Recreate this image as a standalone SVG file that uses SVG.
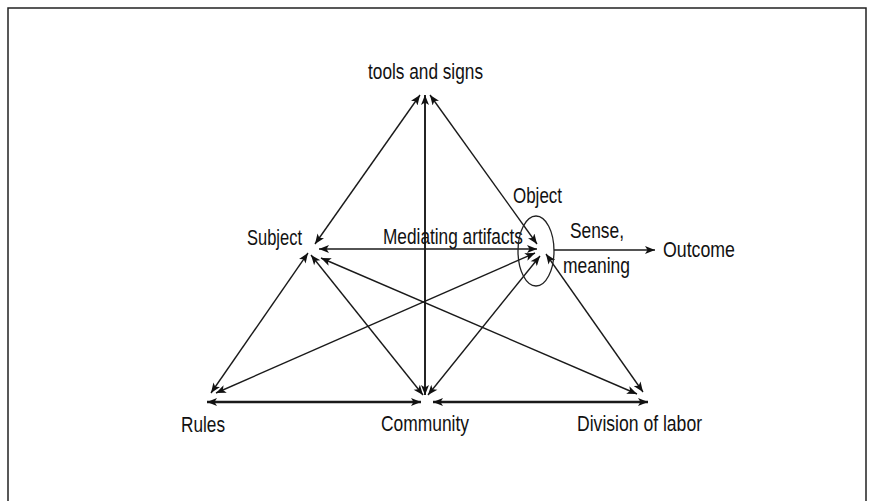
<svg xmlns="http://www.w3.org/2000/svg" width="870" height="501" viewBox="0 0 870 501">
<defs>
<marker id="ah" viewBox="0 0 10 8" refX="10" refY="4" markerWidth="11" markerHeight="8" markerUnits="userSpaceOnUse" orient="auto-start-reverse">
<path d="M0,0 L10,4 L0,8 L2.5,4 z" fill="#111"/>
</marker>
</defs>
<style>
.t{font-family:"Liberation Sans",Arial,sans-serif;font-size:22px;fill:#111;}
.c{stroke:#1a1a1a;stroke-width:1.4;fill:none;marker-start:url(#ah);marker-end:url(#ah);}
.b{stroke-width:2.3;}
.v{stroke-width:1.9;}
</style>
<rect width="870" height="501" fill="#fff"/>
<path d="M8,501 L8,8 L866,8 L866,501" fill="none" stroke="#222" stroke-width="1.5"/>
<g id="connectors">
<line class="c" x1="420" y1="95" x2="315" y2="244"/>
<line class="c v" x1="425" y1="95" x2="425" y2="395"/>
<line class="c" x1="430" y1="95" x2="537" y2="244"/>
<line class="c" x1="319" y1="249" x2="537" y2="249"/>
<line class="c" x1="308" y1="253" x2="211" y2="393"/>
<line class="c" x1="311" y1="255" x2="423" y2="395"/>
<line class="c" x1="321" y1="258" x2="637" y2="394"/>
<line class="c" x1="535" y1="253" x2="216" y2="393"/>
<line class="c" x1="540" y1="256" x2="428" y2="395"/>
<line class="c" x1="546" y1="254" x2="643" y2="392"/>
<line class="c b" x1="207" y1="402" x2="421" y2="402"/>
<line class="c b" x1="433" y1="402" x2="648" y2="402"/>
<line x1="554" y1="250" x2="655" y2="250" stroke="#1a1a1a" stroke-width="1.4" marker-end="url(#ah)"/>
</g>
<g id="tools"><text class="t" x="368" y="79" textLength="115" lengthAdjust="spacingAndGlyphs">tools and signs</text></g>
<g id="subject"><text class="t" x="247" y="245" textLength="55" lengthAdjust="spacingAndGlyphs">Subject</text></g>
<g id="mediating"><text class="t" x="383" y="244" textLength="140" lengthAdjust="spacingAndGlyphs">Mediating artifacts</text></g>
<g id="object">
<ellipse cx="536" cy="251" rx="18" ry="35" fill="none" stroke="#222" stroke-width="1.3"/>
<text class="t" x="513" y="203" textLength="49" lengthAdjust="spacingAndGlyphs">Object</text>
</g>
<g id="sense">
<text class="t" x="570" y="238" textLength="54" lengthAdjust="spacingAndGlyphs">Sense,</text>
<text class="t" x="563" y="273" textLength="67" lengthAdjust="spacingAndGlyphs">meaning</text>
</g>
<g id="outcome"><text class="t" x="663" y="257" textLength="72" lengthAdjust="spacingAndGlyphs">Outcome</text></g>
<g id="rules"><text class="t" x="181" y="432" textLength="44" lengthAdjust="spacingAndGlyphs">Rules</text></g>
<g id="community"><text class="t" x="381" y="431" textLength="88" lengthAdjust="spacingAndGlyphs">Community</text></g>
<g id="division"><text class="t" x="577" y="431" textLength="125" lengthAdjust="spacingAndGlyphs">Division of labor</text></g>
</svg>
